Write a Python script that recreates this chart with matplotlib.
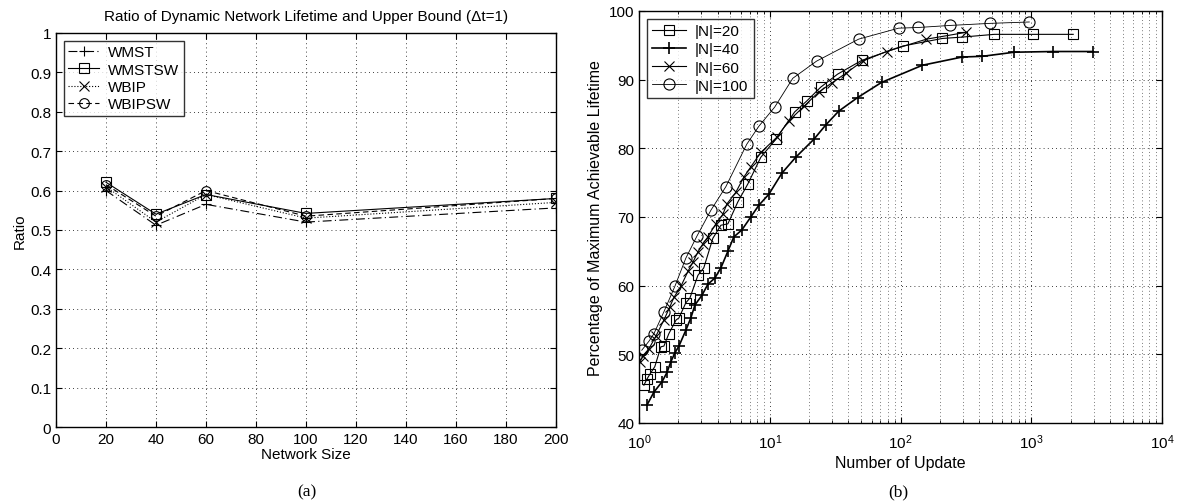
import matplotlib.pyplot as plt
from matplotlib.ticker import LogLocator, NullFormatter

plt.rcParams['font.family'] = ['Liberation Sans', 'DejaVu Sans']

# (a) ratio vs network size
sizes = [20, 40, 60, 100, 200]
wmst = [0.600, 0.512, 0.565, 0.520, 0.556]
wmstsw = [0.621, 0.540, 0.590, 0.542, 0.580]
wbip = [0.610, 0.520, 0.590, 0.530, 0.570]
wbipsw = [0.615, 0.535, 0.600, 0.535, 0.580]

# (b) percentage of maximum achievable lifetime vs number of updates
x20 = [1.09, 1.15, 1.21, 1.32, 1.47, 1.55, 1.69, 1.92, 2.02, 2.28, 2.45, 2.82,
       3.13, 3.67, 4.23, 4.78, 5.70, 6.79, 8.54, 11.1, 15.5, 19.2, 24.5, 33.0,
       50.4, 104, 209, 297, 522, 1035, 2093]
y20 = [45.5, 46.4, 47.1, 48.2, 51.1, 51.2, 53.0, 55.0, 55.3, 57.5, 58.2, 61.5,
       62.6, 66.9, 68.8, 69.0, 72.2, 74.8, 78.7, 81.3, 85.3, 86.9, 88.9, 90.8,
       92.8, 94.9, 96.0, 96.2, 96.6, 96.6, 96.6]
x40 = [1.15, 1.30, 1.50, 1.64, 1.75, 1.88, 2.02, 2.28, 2.49, 2.68, 3.03, 3.36,
       3.80, 4.23, 4.78, 5.31, 6.11, 7.16, 8.24, 9.83, 12.4, 15.8, 21.7, 26.8,
       33.6, 47.0, 71.6, 147, 297, 423, 742, 1473, 2972]
y40 = [42.6, 44.5, 46.0, 47.4, 48.9, 50.2, 51.2, 53.5, 55.3, 57.2, 58.6, 60.2,
       61.1, 62.6, 65.0, 67.1, 68.1, 70.0, 71.7, 73.3, 76.4, 78.7, 81.3, 83.4,
       85.4, 87.4, 89.6, 92.1, 93.3, 93.4, 94.0, 94.1, 94.1]
x60 = [1.02, 1.07, 1.19, 1.35, 1.55, 1.72, 1.85, 2.09, 2.37, 2.58, 2.82, 3.08,
       3.36, 3.87, 4.38, 4.70, 5.50, 6.33, 7.16, 8.54, 11.3, 14.0, 18.2, 23.7,
       29.7, 38.0, 51.3, 78.2, 158, 319]
y60 = [48.9, 49.8, 50.8, 52.7, 55.0, 56.9, 58.3, 59.9, 62.1, 63.4, 64.9, 66.1,
       67.1, 69.0, 70.4, 71.9, 73.6, 75.8, 77.3, 79.4, 81.6, 84.0, 86.1, 88.2,
       89.5, 90.9, 92.7, 94.1, 95.9, 96.9]
x100 = [1.05, 1.19, 1.30, 1.55, 1.88, 2.28, 2.77, 3.55, 4.61, 6.67, 8.24, 10.9,
        15.0, 22.8, 47.8, 96.6, 137, 241, 486, 966]
y100 = [50.6, 51.9, 53.0, 56.2, 59.9, 64.0, 67.2, 71.0, 74.4, 80.6, 83.2, 86.0,
        90.2, 92.7, 95.9, 97.5, 97.6, 97.9, 98.2, 98.4]

fig = plt.figure(figsize=(11.79, 5.02), dpi=100)
ax1 = fig.add_axes([0.0475, 0.1474, 0.424, 0.785])
ax2 = fig.add_axes([0.542, 0.1554, 0.4436, 0.8207])

mk = dict(color='black', markerfacecolor='none', markeredgecolor='black',
          markersize=7, markeredgewidth=0.8, linewidth=0.8)
ax1.plot(sizes, wmst, linestyle=(0, (8, 3, 1, 3)), marker='+', label='WMST', **mk)
ax1.plot(sizes, wmstsw, linestyle='-', marker='s', label='WMSTSW', **mk)
ax1.plot(sizes, wbip, linestyle=':', marker='x', label='WBIP', **mk)
ax1.plot(sizes, wbipsw, linestyle=(0, (5, 3)), marker='o', label='WBIPSW', **mk)

ax1.set_xlim(0, 200)
ax1.set_ylim(0, 1)
ax1.set_xticks(range(0, 201, 20))
ax1.set_yticks([i / 10 for i in range(11)])
ax1.set_yticklabels(['0', '0.1', '0.2', '0.3', '0.4', '0.5', '0.6', '0.7', '0.8', '0.9', '1'])
ax1.set_xlabel('Network Size', fontsize=11, labelpad=1)
ax1.set_ylabel('Ratio', fontsize=11, labelpad=2)
ax1.set_title('Ratio of Dynamic Network Lifetime and Upper Bound (\u0394t=1)', fontsize=11, pad=9)
ax1.grid(True, linestyle=(0, (1, 4)), color='black', linewidth=0.6)
leg1 = ax1.legend(loc='upper left', fontsize=11, frameon=True, fancybox=False,
                  edgecolor='black', handlelength=2.0, borderaxespad=0.5,
                  labelspacing=0.22, borderpad=0.3, handletextpad=0.6)
leg1.get_frame().set_linewidth(1.0)

ax2.plot(x20, y20, linestyle='-', marker='s', label='|N|=20', **mk)
ax2.plot(x40, y40, linestyle='-', marker='+', label='|N|=40',
         **{**mk, 'linewidth': 1.2, 'markersize': 9, 'markeredgewidth': 1.2})
ax2.plot(x60, y60, linestyle='-', marker='x', label='|N|=60', **mk)
ax2.plot(x100, y100, linestyle='-', marker='o', label='|N|=100',
         **{**mk, 'linewidth': 0.6, 'markersize': 8})

ax2.set_xscale('log')
ax2.set_xlim(1, 1e4)
ax2.set_ylim(40, 100)
ax2.set_yticks(range(40, 101, 10))
ax2.xaxis.set_major_locator(LogLocator(base=10, numticks=10))
ax2.xaxis.set_minor_locator(LogLocator(base=10, subs=range(2, 10), numticks=50))
ax2.xaxis.set_minor_formatter(NullFormatter())
ax2.set_xlabel('Number of Update', fontsize=11.5, labelpad=3)
ax2.set_ylabel('Percentage of Maximum Achievable Lifetime', fontsize=11.5, labelpad=4)
ax2.grid(True, which='major', linestyle=(0, (1, 4)), color='black', linewidth=0.6)
ax2.grid(True, which='minor', axis='x', linestyle=(0, (1, 4)), color='black', linewidth=0.5)
leg2 = ax2.legend(loc='upper left', fontsize=11, frameon=True, fancybox=False,
                  edgecolor='black', handlelength=2.2, borderaxespad=0.5,
                  labelspacing=0.28, borderpad=0.35, handletextpad=0.6)
leg2.get_frame().set_linewidth(1.0)

for ax in (ax1, ax2):
    ax.tick_params(which='both', direction='in', top=True, right=True, labelsize=11)
    ax.tick_params(which='major', length=4)
    ax.tick_params(which='minor', length=2)
    for sp in ax.spines.values():
        sp.set_linewidth(1.0)
ax2.tick_params(axis='x', which='major', pad=7)

fig.text(0.26, 0.012, '(a)', fontsize=12.5, family='Liberation Serif', ha='center')
fig.text(0.762, 0.012, '(b)', fontsize=12.5, family='Liberation Serif', ha='center')

fig.savefig('out.png', dpi=100)
